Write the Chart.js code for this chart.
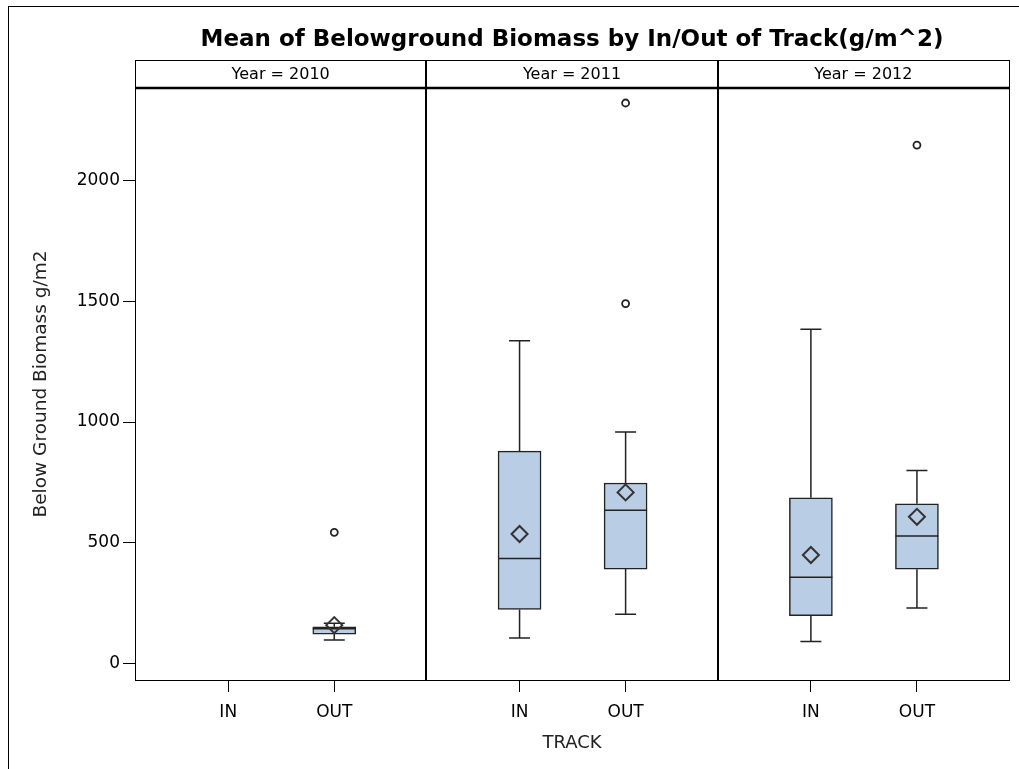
<!DOCTYPE html>
<html>
<head>
<meta charset="utf-8">
<script src="https://cdn.jsdelivr.net/npm/chart.js@4"></script>
<style>
  html, body { margin: 0; padding: 0; background: #fff; }
</style>
</head>
<body>
<canvas id="boxChart" width="1019" height="769"></canvas>
<script>
// values
var years = ['2010', '2011', '2012'];
var tracks = ['IN', 'OUT'];

// one entry per year/track: 2010 IN, 2010 OUT, 2011 IN, 2011 OUT, 2012 IN, 2012 OUT
var whiskerLow  = [null,  98,  107, 205,   92, 231];
var q1          = [null, 123,  225, 392,  199, 391];
var median      = [null, 145,  436, 635,  358, 529];
var q3          = [null, 153,  880, 748,  687, 662];
var whiskerHigh = [null, 168, 1336, 959, 1384, 800];
var means       = [null, 160,  537, 709,  450, 608];

// outliers: [year index, track index, value]
var outliers = [[0, 1, 544], [1, 1, 1490], [1, 1, 2320], [2, 1, 2146]];

var yTicks = [0, 500, 1000, 1500, 2000];

var FONT = "'DejaVu Sans', Arial, sans-serif";
var LINE = '#222';
var trackOffset = [0.32, 0.684]; // where IN / OUT sit inside a year panel
var stripHeight = 28;

function xPos(yi, ti) { return yi + trackOffset[ti]; }

var boxData = [], meanData = [], stats = [];
for (var i = 0; i < q1.length; i++) {
    if (q1[i] == null) continue;
    var x = xPos(Math.floor(i / 2), i % 2);
    boxData.push({ x: x, y: [q1[i], q3[i]] });
    meanData.push({ x: x, y: means[i] });
    stats.push({ x: x, lo: whiskerLow[i], q1: q1[i], med: median[i], q3: q3[i], hi: whiskerHigh[i] });
}
var outlierData = outliers.map(function (o) { return { x: xPos(o[0], o[1]), y: o[2] }; });

var xTicks = [];
years.forEach(function (y, yi) {
    tracks.forEach(function (t, ti) { xTicks.push(xPos(yi, ti)); });
});

// whiskers + median, drawn right after the boxes
var whiskerPlugin = {
    id: 'whiskers',
    afterDatasetDraw: function (chart, args) {
        if (args.index !== 2) return;
        var ctx = chart.ctx, xs = chart.scales.x, ys = chart.scales.y;
        ctx.save();
        ctx.strokeStyle = LINE;
        ctx.lineWidth = 1.5;
        stats.forEach(function (s) {
            var px = xs.getPixelForValue(s.x);
            var capW = 10.5, boxW = 21.5;
            ctx.beginPath();
            ctx.moveTo(px, ys.getPixelForValue(s.lo));
            ctx.lineTo(px, ys.getPixelForValue(s.q1));
            ctx.moveTo(px, ys.getPixelForValue(s.q3));
            ctx.lineTo(px, ys.getPixelForValue(s.hi));
            ctx.moveTo(px - capW, ys.getPixelForValue(s.lo));
            ctx.lineTo(px + capW, ys.getPixelForValue(s.lo));
            ctx.moveTo(px - capW, ys.getPixelForValue(s.hi));
            ctx.lineTo(px + capW, ys.getPixelForValue(s.hi));
            ctx.moveTo(px - boxW, ys.getPixelForValue(s.med));
            ctx.lineTo(px + boxW, ys.getPixelForValue(s.med));
            ctx.stroke();
        });
        ctx.restore();
    }
};

// frame, year strips and panel dividers
var panelPlugin = {
    id: 'panels',
    afterDraw: function (chart) {
        var ctx = chart.ctx, a = chart.chartArea, xs = chart.scales.x;
        var top = a.top - stripHeight;
        ctx.save();
        ctx.strokeStyle = '#000';
        ctx.lineWidth = 1;
        ctx.strokeRect(8.5, 6.5, 1100, 1100);
        ctx.strokeRect(a.left + 0.5, top + 0.5, a.right - a.left, a.bottom - top);
        ctx.lineWidth = 2.5;
        ctx.beginPath();
        ctx.moveTo(a.left, a.top);
        ctx.lineTo(a.right, a.top);
        ctx.stroke();
        ctx.lineWidth = 2;
        ctx.beginPath();
        for (var k = 1; k < years.length; k++) {
            var px = Math.round(xs.getPixelForValue(k));
            ctx.moveTo(px, top);
            ctx.lineTo(px, a.bottom);
        }
        ctx.stroke();
        ctx.fillStyle = '#000';
        ctx.font = '16px ' + FONT;
        ctx.textAlign = 'center';
        ctx.textBaseline = 'middle';
        years.forEach(function (y, yi) {
            var cx = (xs.getPixelForValue(yi) + xs.getPixelForValue(yi + 1)) / 2;
            ctx.fillText('Year = ' + y, cx, top + stripHeight / 2 + 1);
        });
        ctx.restore();
    }
};

var ctx = document.getElementById('boxChart').getContext('2d');
var boxChart = new Chart(ctx, {
    type: 'bar',
    data: {
        datasets: [{
            type: 'scatter',
            label: 'Mean',
            data: meanData,
            pointStyle: 'rectRot',
            pointRadius: 8,
            backgroundColor: 'rgba(0,0,0,0)',
            borderColor: '#333',
            borderWidth: 2
        }, {
            type: 'scatter',
            label: 'Outlier',
            data: outlierData,
            pointStyle: 'circle',
            pointRadius: 3.5,
            backgroundColor: 'rgba(0,0,0,0)',
            borderColor: '#222',
            borderWidth: 1.8
        }, {
            type: 'bar',
            label: 'IQR',
            data: boxData,
            barThickness: 43,
            backgroundColor: '#B9CDE5',
            borderColor: LINE,
            borderWidth: 1.5,
            borderSkipped: false
        }]
    },
    options: {
        responsive: false,
        animation: false,
        layout: { padding: { left: 0, right: 8, top: 0, bottom: 0 } },
        plugins: {
            legend: { display: false },
            tooltip: { enabled: false },
            title: {
                display: true,
                fullSize: false,
                text: 'Mean of Belowground Biomass by In/Out of Track(g/m^2)',
                color: '#000',
                font: { family: FONT, size: 23, weight: 'bold' },
                padding: { top: 26.2, bottom: 34.2 }
            }
        },
        scales: {
            x: {
                type: 'linear',
                min: 0,
                max: years.length,
                offset: false,
                afterBuildTicks: function (s) { s.ticks = xTicks.map(function (v) { return { value: v }; }); },
                afterFit: function (s) { s.height = 89; },
                grid: { drawOnChartArea: false, offset: false, tickLength: 12, color: '#000' },
                border: { color: '#000' },
                ticks: {
                    autoSkip: false,
                    maxRotation: 0,
                    padding: 10,
                    color: '#000',
                    font: { family: FONT, size: 17 },
                    callback: function (v, idx) { return tracks[idx % tracks.length]; }
                },
                title: {
                    display: true,
                    text: 'TRACK',
                    color: '#222',
                    font: { family: FONT, size: 18 },
                    padding: { top: 0, bottom: 15 }
                }
            },
            y: {
                min: -67,
                max: 2382,
                afterBuildTicks: function (s) { s.ticks = yTicks.map(function (v) { return { value: v }; }); },
                afterFit: function (s) { s.width = 135; },
                grid: { drawOnChartArea: false, tickLength: 12, color: '#000' },
                border: { color: '#000' },
                ticks: {
                    padding: 3,
                    color: '#000',
                    font: { family: FONT, size: 17 },
                    callback: function (v) { return String(v); }
                },
                title: {
                    display: true,
                    text: 'Below Ground Biomass g/m2',
                    color: '#222',
                    font: { family: FONT, size: 18.5 },
                    padding: { top: 29.7, bottom: 0 }
                }
            }
        }
    },
    plugins: [whiskerPlugin, panelPlugin]
});
</script>
</body>
</html>
